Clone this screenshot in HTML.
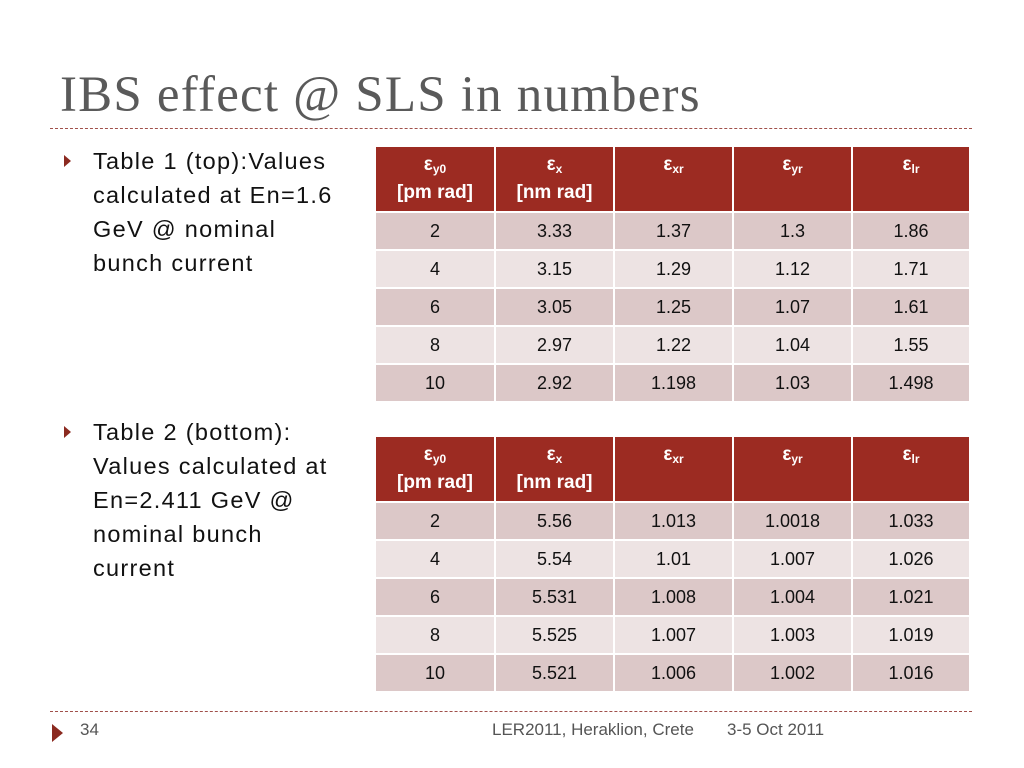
<!DOCTYPE html>
<html><head><meta charset="utf-8"><style>
body{margin:0;width:1024px;height:768px;background:#fff;position:relative;overflow:hidden;font-family:"Liberation Sans",sans-serif}
.title{position:absolute;left:60px;top:66px;font-family:"Liberation Serif",serif;font-size:51px;letter-spacing:1.2px;color:#5a5a5a;white-space:nowrap}
.dash{position:absolute;left:50px;width:922px;border-top:1px dashed #a0504a}
.bul{position:absolute;left:93px;font-size:23.5px;letter-spacing:1.3px;line-height:34px;color:#111;white-space:nowrap}
.arr{position:absolute;left:64px;width:0;height:0;border-top:6px solid transparent;border-bottom:6px solid transparent;border-left:7px solid #8b2a20}
table{position:absolute;left:376px;border-collapse:separate;border-spacing:0;width:593px;font-size:18px}
td,th{text-align:center;padding:0;border-right:2px solid #fff;border-bottom:2px solid #fff}
td:last-child,th:last-child{border-right:none}
th{background:#9c2b22;color:#fff;font-weight:bold;height:58px;vertical-align:top;padding-top:6px;line-height:24px;font-size:19px}
td{height:36px;color:#111}
tr.o td{background:#dcc8c8}tr.e td{background:#ede3e3}
sub{font-size:12px;vertical-align:-3px}
.foot{position:absolute;top:720px;font-size:17px;color:#555;white-space:nowrap}
</style></head><body>
<div class="title">IBS effect @ SLS in numbers</div>
<div class="dash" style="top:128px"></div>
<div class="arr" style="top:155px"></div>
<div class="bul" style="top:144px">Table 1 (top):Values<br>calculated at En=1.6<br>GeV @ nominal<br>bunch current</div>
<div class="arr" style="top:426px"></div>
<div class="bul" style="top:415px">Table 2 (bottom):<br>Values calculated at<br>En=2.411 GeV @<br>nominal bunch<br>current</div>

<table style="top:147px">
<tr><th style="width:118px">ε<sub>y0</sub><br>[pm rad]</th><th style="width:117px">ε<sub>x</sub><br>[nm rad]</th><th style="width:117px">ε<sub>xr</sub></th><th style="width:117px">ε<sub>yr</sub></th><th>ε<sub>lr</sub></th></tr>
<tr class="o"><td>2</td><td>3.33</td><td>1.37</td><td>1.3</td><td>1.86</td></tr>
<tr class="e"><td>4</td><td>3.15</td><td>1.29</td><td>1.12</td><td>1.71</td></tr>
<tr class="o"><td>6</td><td>3.05</td><td>1.25</td><td>1.07</td><td>1.61</td></tr>
<tr class="e"><td>8</td><td>2.97</td><td>1.22</td><td>1.04</td><td>1.55</td></tr>
<tr class="o"><td>10</td><td>2.92</td><td>1.198</td><td>1.03</td><td>1.498</td></tr>
</table>

<table style="top:437px">
<tr><th style="width:118px">ε<sub>y0</sub><br>[pm rad]</th><th style="width:117px">ε<sub>x</sub><br>[nm rad]</th><th style="width:117px">ε<sub>xr</sub></th><th style="width:117px">ε<sub>yr</sub></th><th>ε<sub>lr</sub></th></tr>
<tr class="o"><td>2</td><td>5.56</td><td>1.013</td><td>1.0018</td><td>1.033</td></tr>
<tr class="e"><td>4</td><td>5.54</td><td>1.01</td><td>1.007</td><td>1.026</td></tr>
<tr class="o"><td>6</td><td>5.531</td><td>1.008</td><td>1.004</td><td>1.021</td></tr>
<tr class="e"><td>8</td><td>5.525</td><td>1.007</td><td>1.003</td><td>1.019</td></tr>
<tr class="o"><td>10</td><td>5.521</td><td>1.006</td><td>1.002</td><td>1.016</td></tr>
</table>

<div class="dash" style="top:711px"></div>
<div class="arr" style="top:724px;left:52px;border-top-width:9px;border-bottom-width:9px;border-left-width:11px"></div>
<div class="foot" style="left:80px">34</div>
<div class="foot" style="left:492px">LER2011, Heraklion, Crete</div>
<div class="foot" style="left:727px">3-5 Oct 2011</div>
</body></html>
